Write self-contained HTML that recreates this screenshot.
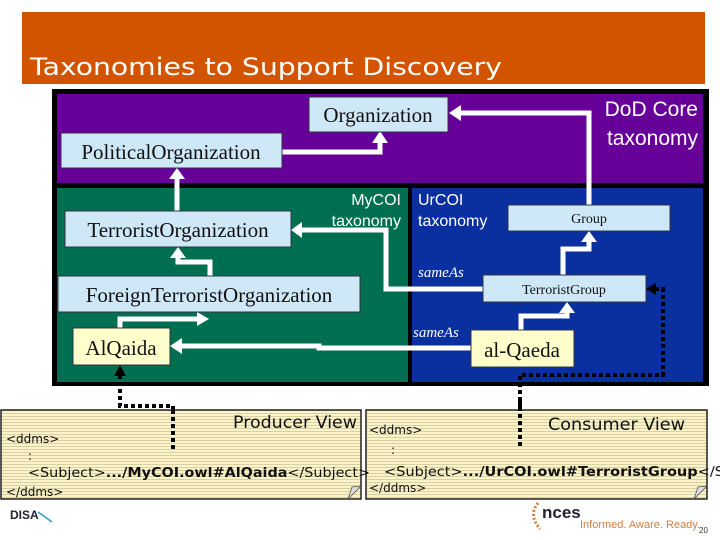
<!DOCTYPE html>
<html><head><meta charset="utf-8"><style>
html,body{margin:0;padding:0;background:#fff;}
svg{display:block;}
</style></head><body>
<svg width="720" height="540" viewBox="0 0 720 540" xmlns="http://www.w3.org/2000/svg">
<defs>
<pattern id="lines" width="4" height="3" patternUnits="userSpaceOnUse">
<rect width="4" height="3" fill="#fbf3c9"/>
<rect y="2" width="4" height="1" fill="#d9cfa0"/>
</pattern>
</defs>
<!-- title -->
<rect x="22" y="12" width="683" height="72" fill="#d35400"/>
<text x="30" y="75" font-family="DejaVu Sans, sans-serif" font-size="24" fill="#fff" textLength="472" lengthAdjust="spacingAndGlyphs">Taxonomies to Support Discovery</text>

<!-- frame -->
<rect x="52" y="89" width="657" height="297" fill="#000"/>
<rect x="57" y="94" width="646" height="89" fill="#660099"/>
<rect x="57" y="188" width="351" height="194" fill="#006e50"/>
<rect x="412" y="188" width="291" height="194" fill="#0a2f9e"/>

<g font-family="Liberation Sans, sans-serif" fill="#fff">
<text x="698" y="116" font-size="21" text-anchor="end">DoD Core</text>
<text x="698" y="145" font-size="21" text-anchor="end">taxonomy</text>
<text x="401" y="205" font-size="16" text-anchor="end">MyCOI</text>
<text x="401" y="226" font-size="16" text-anchor="end">taxonomy</text>
<text x="418" y="205" font-size="16">UrCOI</text>
<text x="418" y="226" font-size="16">taxonomy</text>
</g>
<g font-family="Liberation Serif, serif" font-style="italic" fill="#fff" font-size="15">
<text x="418" y="277">sameAs</text>
<text x="413" y="337">sameAs</text>
</g>

<!-- white arrows -->
<g stroke="#fff" stroke-width="5" fill="none">
<polyline points="282,152 380,152 380,142"/>
<polyline points="589,205 589,113 460,113"/>
<polyline points="177,211 177,178"/>
<polyline points="210,276 210,262 178,262 178,257"/>
<polyline points="120,328 120,319 198,319"/>
<polyline points="483,289 386,289 386,230 301,230"/>
<polyline points="563,275 563,249 589,249 589,241"/>
<polyline points="471,348 319,348 319,346 181,346"/>
<polyline points="521,330 521,316 567,316 567,312"/>
</g>
<g fill="#fff">
<polygon points="372,143 388,143 380,131"/>
<polygon points="461,105 461,121 449,113"/>
<polygon points="169,179 185,179 177,168"/>
<polygon points="170,258 186,258 178,247"/>
<polygon points="197,312 197,326 209,319"/>
<polygon points="302,222 302,238 291,230"/>
<polygon points="581,242 597,242 589,231"/>
<polygon points="182,338 182,354 170,346"/>
<polygon points="559,313 575,313 567,302"/>
</g>

<!-- boxes -->
<g stroke="#334" stroke-width="1">
<rect x="309" y="97" width="139" height="35" fill="#cfe8f7"/>
<rect x="61" y="133" width="221" height="35" fill="#cfe8f7"/>
<rect x="65" y="211" width="226" height="36" fill="#cfe8f7"/>
<rect x="58" y="276" width="302" height="36" fill="#cfe8f7"/>
<rect x="73" y="328" width="97" height="37" fill="#ffffcc"/>
<rect x="508" y="205" width="162" height="26" fill="#cfe8f7"/>
<rect x="483" y="275" width="163" height="27" fill="#cfe8f7"/>
<rect x="471" y="330" width="103" height="37" fill="#ffffcc"/>
</g>
<g font-family="Liberation Serif, serif" fill="#111">
<text x="378" y="122" font-size="21" text-anchor="middle">Organization</text>
<text x="171" y="159" font-size="21" text-anchor="middle">PoliticalOrganization</text>
<text x="178" y="237" font-size="21" text-anchor="middle">TerroristOrganization</text>
<text x="209" y="302" font-size="21" text-anchor="middle">ForeignTerroristOrganization</text>
<text x="121" y="355" font-size="21" text-anchor="middle">AlQaida</text>
<text x="589" y="223" font-size="14" text-anchor="middle">Group</text>
<text x="564" y="294" font-size="14" text-anchor="middle">TerroristGroup</text>
<text x="522" y="357" font-size="21" text-anchor="middle">al-Qaeda</text>
</g>

<!-- dotted connectors -->
<g stroke="#000" stroke-width="4" fill="none" stroke-dasharray="4,3">
<polyline points="520,450 520,375 663,375 663,289 656,289"/>
<polyline points="120,375 120,406 173,406 173,452"/>
</g>
<polygon points="646,289 656,283 656,295" fill="#000"/>
<polygon points="120,365 114,376 126,376" fill="#000"/>

<!-- notes -->
<rect x="1" y="410" width="360" height="89" fill="url(#lines)" stroke="#222" stroke-width="1.5"/>
<rect x="366" y="410" width="341" height="89" fill="url(#lines)" stroke="#222" stroke-width="1.5"/>
<polygon points="348,499 361,486 352,487" fill="#ddd" stroke="#555" stroke-width="0.8"/>
<polygon points="694,499 707,486 698,487" fill="#ddd" stroke="#555" stroke-width="0.8"/>
<g stroke="#000" stroke-width="4" stroke-dasharray="4,3">
<line x1="173" y1="410" x2="173" y2="452"/>
<line x1="520" y1="400" x2="520" y2="447"/>
</g>
<g font-family="DejaVu Sans, sans-serif" fill="#111">
<text x="233" y="428" font-size="17" textLength="124" lengthAdjust="spacingAndGlyphs">Producer View</text>
<text x="548" y="430" font-size="17" textLength="137" lengthAdjust="spacingAndGlyphs">Consumer View</text>
<text x="6" y="443" font-size="12">&lt;ddms&gt;</text>
<text x="28" y="460" font-size="12">:</text>
<text x="28" y="477" font-size="13" textLength="342" lengthAdjust="spacingAndGlyphs">&lt;Subject&gt;<tspan font-weight="bold">.../MyCOI.owl#AlQaida</tspan>&lt;/Subject&gt;</text>
<text x="6" y="496" font-size="12">&lt;/ddms&gt;</text>
<text x="369" y="434" font-size="12">&lt;ddms&gt;</text>
<text x="391" y="454" font-size="12">:</text>
<text x="384" y="476" font-size="13" textLength="340" lengthAdjust="spacingAndGlyphs">&lt;Subject&gt;<tspan font-weight="bold">.../UrCOI.owl#TerroristGroup</tspan>&lt;/S</text>
<text x="369" y="492" font-size="12">&lt;/ddms&gt;</text>
</g>

<!-- footer -->
<text x="10" y="519" font-family="Liberation Sans, sans-serif" font-size="12" font-weight="bold" fill="#223">DISA</text>
<line x1="38" y1="512" x2="52" y2="522" stroke="#39c" stroke-width="1.5"/>
<path d="M538,503 Q528,515 540,529" stroke="#d08040" stroke-width="3" fill="none" stroke-dasharray="2,2"/>
<text x="542" y="518" font-family="Liberation Sans, sans-serif" font-size="17" font-weight="bold" fill="#223">nces</text>
<text x="580" y="528" font-family="Liberation Sans, sans-serif" font-size="11" fill="#d08040">Informed. Aware. Ready.</text>
<text x="699" y="533" font-family="Liberation Sans, sans-serif" font-size="8" fill="#333">20</text>
</svg>
</body></html>
